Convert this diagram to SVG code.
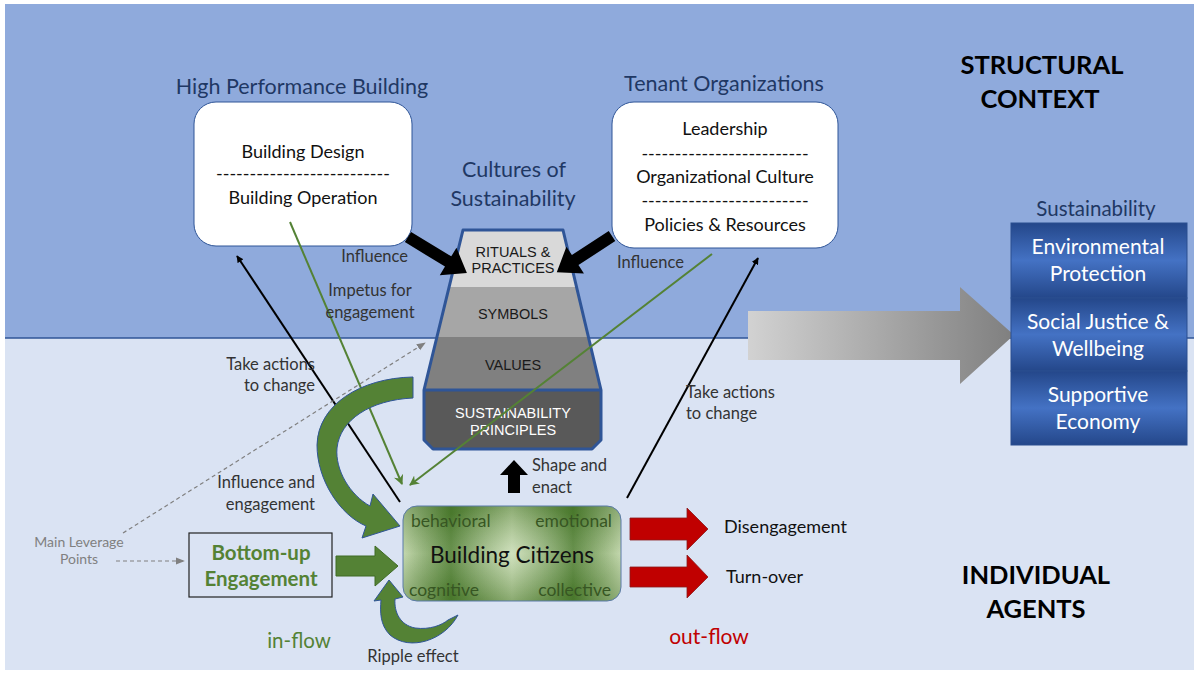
<svg xmlns="http://www.w3.org/2000/svg" width="1200" height="677" viewBox="0 0 1200 677">
<defs>
<style>
.t{font-family:Lato,"Open Sans","Liberation Sans",sans-serif}
.hd{font-size:21.5px;fill:#1F3864;text-anchor:middle}
.bx{font-size:18px;fill:#111;text-anchor:middle}
.lbl{font-size:16.5px;fill:#333;}
.tr{font-family:"Liberation Sans",Arial,sans-serif;font-size:14.5px;text-anchor:middle;fill:#1a1a1a}
.big{font-size:25.5px;font-weight:bold;fill:#000;text-anchor:middle}
.sus{font-size:21px;fill:#fff;text-anchor:middle}
.cit{font-size:17.5px;fill:#375623}
</style>
<marker id="mBlack" viewBox="0 0 10 10" refX="9" refY="5" markerWidth="7" markerHeight="7" orient="auto" markerUnits="userSpaceOnUse"><path d="M0,0 L10,5 L0,10 z" fill="#000"/></marker>
<marker id="mGreen" viewBox="0 0 10 10" refX="9" refY="5" markerWidth="10" markerHeight="10" orient="auto" markerUnits="userSpaceOnUse"><path d="M0,0 L10,5 L0,10 L3,5 z" fill="#548235"/></marker>
<marker id="mGray" viewBox="0 0 10 10" refX="9" refY="5" markerWidth="9" markerHeight="9" orient="auto" markerUnits="userSpaceOnUse"><path d="M0,1 L10,5 L0,9 z" fill="#808080"/></marker>
<linearGradient id="gGray" x1="0" y1="0" x2="1" y2="0"><stop offset="0" stop-color="#d2d2d2"/><stop offset="1" stop-color="#7f7f7f"/></linearGradient>
<linearGradient id="gBlue" x1="0" y1="0" x2="0" y2="1"><stop offset="0" stop-color="#24478A"/><stop offset="0.5" stop-color="#4472C4"/><stop offset="1" stop-color="#24478A"/></linearGradient>
<linearGradient id="gCitH" x1="0" y1="0" x2="1" y2="0"><stop offset="0" stop-color="#c4d8ae"/><stop offset="0.22" stop-color="#4f7f30"/><stop offset="0.5" stop-color="#bcd4a2"/><stop offset="0.78" stop-color="#4f7f30"/><stop offset="1" stop-color="#c4d8ae"/></linearGradient>
<radialGradient id="gCitR" cx="0.5" cy="0.5" r="0.5"><stop offset="0" stop-color="#ffffff" stop-opacity="0.3"/><stop offset="1" stop-color="#ffffff" stop-opacity="0"/></radialGradient>
<linearGradient id="gCitV" x1="0" y1="0" x2="0" y2="1"><stop offset="0" stop-color="#3f6b25" stop-opacity="0.4"/><stop offset="0.5" stop-color="#3f6b25" stop-opacity="0"/><stop offset="1" stop-color="#3f6b25" stop-opacity="0.4"/></linearGradient>
</defs>

<!-- background panels -->
<rect x="0" y="0" width="1200" height="677" fill="#ffffff"/>
<rect x="5" y="4" width="1189" height="334" fill="#8FAADC"/>
<rect x="5" y="338" width="1189" height="332" fill="#DAE3F3"/>
<line x1="5" y1="338" x2="1194" y2="338" stroke="#2F5597" stroke-width="1.5"/>

<!-- big gray arrow -->
<g id="grayArrow">
<path d="M748,311 L960,311 L960,287 L1014,335 L960,384 L960,360 L748,360 Z" fill="url(#gGray)"/>
</g>

<!-- High Performance Building -->
<g id="hpb">
<text class="t hd" x="302" y="94">High Performance Building</text>
<rect x="194" y="102" width="218" height="144" rx="22" fill="#fff" stroke="#2F5597" stroke-width="1"/>
<text class="t bx" x="303" y="158">Building Design</text>
<text class="t bx" x="303" y="180">--------------------------</text>
<text class="t bx" x="303" y="204">Building Operation</text>
</g>

<!-- Tenant Organizations -->
<g id="tenant">
<text class="t hd" x="724" y="91">Tenant Organizations</text>
<rect x="612" y="102" width="226" height="146" rx="22" fill="#fff" stroke="#2F5597" stroke-width="1"/>
<text class="t bx" x="725" y="135">Leadership</text>
<text class="t bx" x="725" y="160">-------------------------</text>
<text class="t bx" x="725" y="183">Organizational  Culture</text>
<text class="t bx" x="725" y="207">-------------------------</text>
<text class="t bx" x="725" y="231">Policies &amp; Resources</text>
</g>

<!-- Cultures of Sustainability -->
<g id="cultures">
<text class="t hd" x="514" y="177">Cultures of</text>
<text class="t hd" x="513" y="206">Sustainability</text>
<polygon points="463,230 563,230 577,287 449,287" fill="#D9D9D9"/>
<polygon points="449,287 577,287 589,337 437,337" fill="#A6A6A6"/>
<polygon points="437,337 589,337 601,390 424,390" fill="#808080"/>
<polygon points="424,390 601,390 601,440 592,449 433,449 424,440" fill="#595959"/>
<polygon points="463,230 563,230 601,390 601,440 592,449 433,449 424,440 424,390" fill="none" stroke="#2F5597" stroke-width="3" stroke-linejoin="round"/>
<line x1="424" y1="390" x2="601" y2="390" stroke="#2F5597" stroke-width="3"/>
<text class="tr" x="513" y="257">RITUALS &amp;</text>
<text class="tr" x="513" y="273">PRACTICES</text>
<text class="tr" x="513" y="319">SYMBOLS</text>
<text class="tr" x="513" y="370">VALUES</text>
<text class="tr" x="513" y="418" style="fill:#fff">SUSTAINABILITY</text>
<text class="tr" x="513" y="435" style="fill:#fff">PRINCIPLES</text>
</g>

<!-- Sustainability column -->
<g id="sustainability">
<text class="t" x="1096" y="216" font-size="20.5" fill="#1F3864" text-anchor="middle">Sustainability</text>
<rect x="1011" y="223" width="176" height="75" fill="url(#gBlue)" stroke="#2a4f8f" stroke-width="1"/>
<rect x="1011" y="298" width="176" height="73" fill="url(#gBlue)" stroke="#2a4f8f" stroke-width="1"/>
<rect x="1011" y="371" width="176" height="74" fill="url(#gBlue)" stroke="#2a4f8f" stroke-width="1"/>
<text class="t sus" x="1098" y="254">Environmental</text>
<text class="t sus" x="1098" y="281">Protection</text>
<text class="t sus" x="1098" y="329">Social Justice &amp;</text>
<text class="t sus" x="1098" y="356">Wellbeing</text>
<text class="t sus" x="1098" y="402">Supportive</text>
<text class="t sus" x="1098" y="429">Economy</text>
</g>

<!-- Section labels -->
<g id="labels">
<text class="t big" x="1042" y="74">STRUCTURAL</text>
<text class="t big" x="1040" y="108">CONTEXT</text>
<text class="t big" x="1036" y="584">INDIVIDUAL</text>
<text class="t big" x="1036" y="618">AGENTS</text>
</g>

<!-- Building Citizens -->
<g id="citizens">
<rect x="403" y="506" width="218" height="95" rx="14" fill="url(#gCitH)"/>
<rect x="403" y="506" width="218" height="95" rx="14" fill="url(#gCitV)"/>
<rect x="403" y="506" width="218" height="95" rx="14" fill="url(#gCitR)" stroke="#5a7aa8" stroke-width="1"/>
<text class="t cit" x="411" y="527">behavioral</text>
<text class="t cit" x="612" y="527" text-anchor="end">emotional</text>
<text class="t" x="512" y="563" font-size="22.5" fill="#111" text-anchor="middle">Building Citizens</text>
<text class="t cit" x="409" y="596">cognitive</text>
<text class="t cit" x="611" y="596" text-anchor="end">collective</text>
</g>

<!-- Bottom-up Engagement -->
<g id="bottomup">
<rect x="189" y="533" width="143" height="64" fill="#DAE3F3" stroke="#222" stroke-width="1.2"/>
<text class="t" x="261" y="560" font-size="20.5" font-weight="bold" fill="#548235" text-anchor="middle">Bottom-up</text>
<text class="t" x="261" y="586" font-size="20.5" font-weight="bold" fill="#548235" text-anchor="middle">Engagement</text>
</g>

<!-- connectors -->
<g id="connectors">
<polygon points="0,-6 47,-6 47,-16 69,0 47,16 47,6 0,6" fill="#000" transform="translate(408,237) rotate(31.4)"/>
<polygon points="0,-6 44,-6 44,-16 66,0 44,16 44,6 0,6" fill="#000" transform="translate(612,236) rotate(146.8)"/>
<polygon points="508,493 508,475 500,475 514,460 528,475 520,475 520,493" fill="#000"/>
<line x1="400" y1="502" x2="237" y2="256" stroke="#000" stroke-width="2" marker-end="url(#mBlack)"/>
<line x1="627" y1="498" x2="758" y2="258" stroke="#000" stroke-width="2" marker-end="url(#mBlack)"/>
<line x1="290" y1="222" x2="402" y2="484" stroke="#548235" stroke-width="2" marker-end="url(#mGreen)"/>
<line x1="712" y1="254" x2="410" y2="485" stroke="#548235" stroke-width="2" marker-end="url(#mGreen)"/>
<line x1="123" y1="533" x2="425" y2="343" stroke="#808080" stroke-width="1.2" stroke-dasharray="4 3" marker-end="url(#mGray)"/>
<line x1="116" y1="561" x2="184" y2="561" stroke="#808080" stroke-width="1.2" stroke-dasharray="4 3" marker-end="url(#mGray)"/>
<polygon points="336,556 375,556 375,546 398,566 375,586 375,576 336,576" fill="#548235" stroke="#3f6b25" stroke-width="1"/>
<path d="M413,377 C360,378 318,405 317,445 C317,480 340,515 366,526 L362,538 L400,526 L373,494 L370,506 C350,495 335,470 337,448 C340,420 370,400 413,398 Z" fill="#548235" stroke="#2F5597" stroke-width="1"/>
<path d="M458,615 C445,640 410,652 390,635 C380,625 380,612 381,600 L374,601 L389,580 L403,597 L395,599 C394,612 400,625 415,628 C430,630 442,625 448,620 Z" fill="#548235" stroke="#2F5597" stroke-width="1"/>
<polygon points="630,518 687,518 687,508 708,529 687,550 687,540 630,540" fill="#C00000" stroke="#8a1a1a" stroke-width="0.8"/>
<polygon points="630,567 687,567 687,555 708,577 687,598 687,587 630,587" fill="#C00000" stroke="#8a1a1a" stroke-width="0.8"/>
</g>

<!-- free labels -->
<g id="texts">
<text class="t lbl" x="408" y="262" text-anchor="end">Influence</text>
<text class="t lbl" x="617" y="268">Influence</text>
<text class="t lbl" x="370" y="296" text-anchor="middle">Impetus for</text>
<text class="t lbl" x="370" y="318" text-anchor="middle">engagement</text>
<text class="t lbl" x="315" y="370" text-anchor="end">Take actions</text>
<text class="t lbl" x="315" y="391" text-anchor="end">to change</text>
<text class="t lbl" x="686" y="398">Take actions</text>
<text class="t lbl" x="686" y="419">to change</text>
<text class="t lbl" x="315" y="488" text-anchor="end">Influence and</text>
<text class="t lbl" x="315" y="510" text-anchor="end">engagement</text>
<text class="t lbl" x="532" y="471">Shape and</text>
<text class="t lbl" x="532" y="493">enact</text>
<text class="t" x="79" y="547" font-size="14" fill="#808080" text-anchor="middle">Main Leverage</text>
<text class="t" x="79" y="564" font-size="14" fill="#808080" text-anchor="middle">Points</text>
<text class="t lbl" x="413" y="662" text-anchor="middle">Ripple effect</text>
<text class="t" x="299" y="648" font-size="20.5" fill="#548235" text-anchor="middle">in-flow</text>
<text class="t" x="709" y="644" font-size="21" fill="#C00000" text-anchor="middle">out-flow</text>
<text class="t" x="724" y="533" font-size="18" fill="#111">Disengagement</text>
<text class="t" x="726" y="583" font-size="18" fill="#111">Turn-over</text>
</g>
</svg>
